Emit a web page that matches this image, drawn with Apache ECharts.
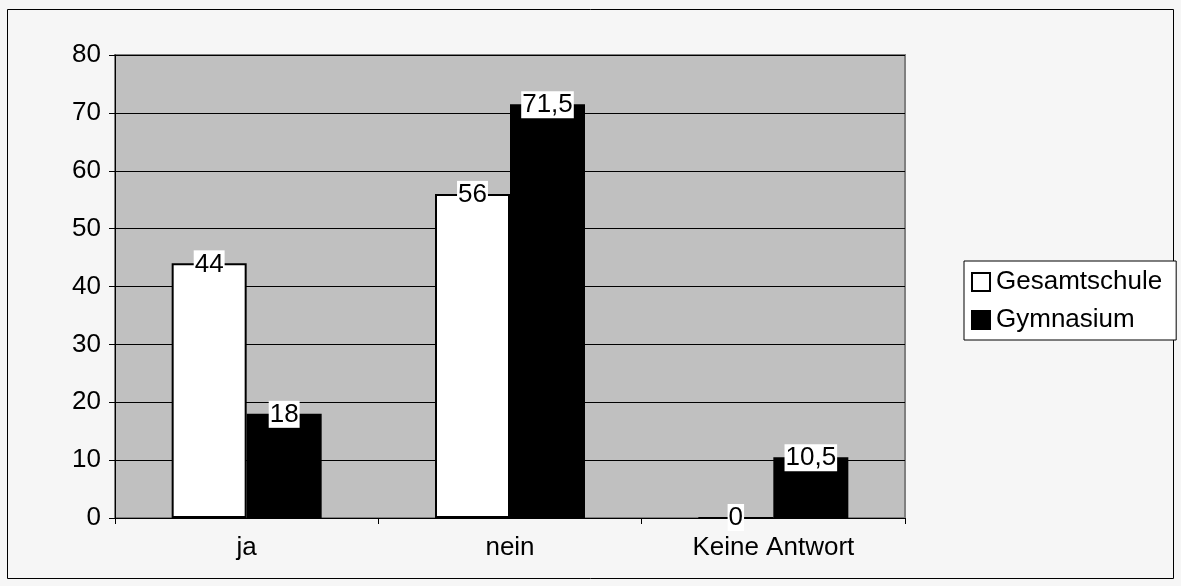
<!DOCTYPE html>
<html><head><meta charset="utf-8">
<script src="https://cdn.jsdelivr.net/npm/echarts@6/dist/echarts.min.js"></script>
<style>html,body{margin:0;padding:0;background:#fff}#c{width:1181px;height:586px}</style>
</head><body><div id="c"></div>
<script>
const categories = ['ja', 'nein', 'Keine Antwort'];
const gesamtschule = [44, 56, 0];
const gymnasium = [18, 71.5, 10.5];
const yTicks = [0, 10, 20, 30, 40, 50, 60, 70, 80];

const font = '"Liberation Sans", Arial, sans-serif';
const FS = 26;
const chart = echarts.init(document.getElementById('c'));
const lbl = {
  show: true, position: 'top', distance: -14,
  color: '#000', fontFamily: font, fontSize: FS,
  backgroundColor: '#fff', padding: [1, 1, 0, 1],
  formatter: p => String(p.value).replace('.', ',')
};
chart.setOption({
  backgroundColor: '#f6f6f6',
  animation: false,
  graphic: [
    { type: 'rect', shape: { x: 7.5, y: 9.5, width: 1166, height: 569 }, style: { fill: 'none', stroke: '#000', lineWidth: 1 }, z: -1 },
    { type: 'rect', shape: { x: 115, y: 55, width: 790, height: 463 }, style: { fill: '#c0c0c0', stroke: '#808080', lineWidth: 2 }, z: -1 }
  ],
  grid: { left: 115, top: 55, width: 790, height: 463, containLabel: false },
  legend: {
    orient: 'vertical', left: 964, top: 261,
    data: ['Gesamtschule', 'Gymnasium'],
    itemWidth: 18, itemHeight: 18, itemGap: 12,
    padding: [8, 14, 7, 7],
    borderColor: '#000', borderWidth: 1, backgroundColor: '#fff',
    textStyle: { fontFamily: font, fontSize: FS, color: '#000', padding: [0, 0, 0, 1] },
    icon: 'rect'
  },
  xAxis: {
    type: 'category', data: categories,
    axisLine: { lineStyle: { color: '#000', width: 1 } },
    axisTick: { show: true, length: 6, lineStyle: { color: '#000' } },
    axisLabel: { fontFamily: font, fontSize: FS, color: '#000', margin: 17 }
  },
  yAxis: {
    type: 'value', min: 0, max: 80, interval: 10,
    axisLine: { show: true, lineStyle: { color: '#000' } },
    axisTick: { show: true, length: 6, lineStyle: { color: '#000' } },
    splitLine: { lineStyle: { color: '#000', width: 1 } },
    axisLabel: { fontFamily: font, fontSize: FS, color: '#000', margin: 14,
      formatter: v => yTicks.includes(v) ? String(v) : '' }
  },
  series: [
    { name: 'Gesamtschule', type: 'bar', data: gesamtschule, barWidth: 75, barGap: '0%',
      itemStyle: { color: '#fff', borderColor: '#000', borderWidth: 2 }, label: lbl },
    { name: 'Gymnasium', type: 'bar', data: gymnasium, barWidth: 75,
      itemStyle: { color: '#000', borderColor: '#000', borderWidth: 2 }, label: lbl }
  ]
});
</script></body></html>
